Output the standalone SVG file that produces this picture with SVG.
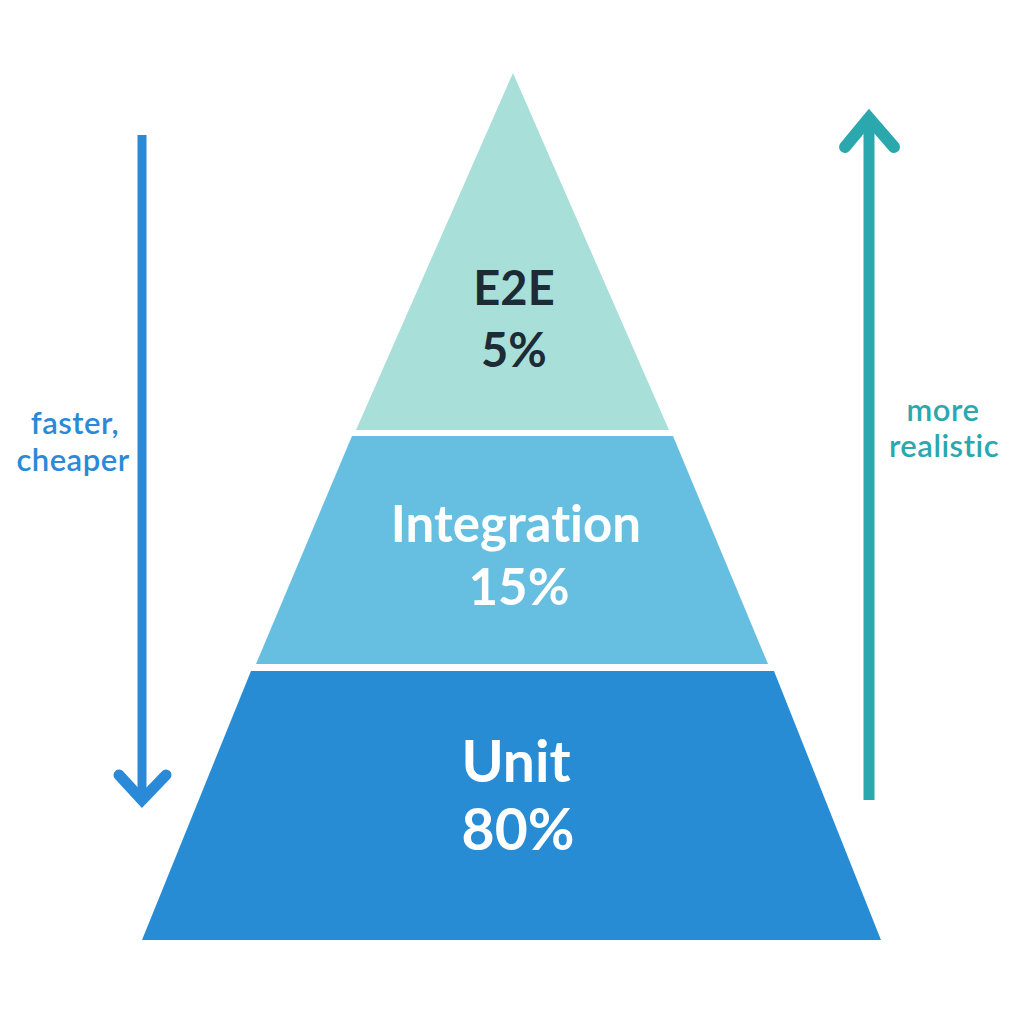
<svg xmlns="http://www.w3.org/2000/svg" width="1024" height="1024" viewBox="0 0 1024 1024">
<style>
.lbl{font-family:Lato,"Open Sans","Liberation Sans",sans-serif;font-weight:bold;text-anchor:middle;font-variant-ligatures:none}
.side{font-family:Lato,"Open Sans","Liberation Sans",sans-serif;font-weight:600;font-size:31px;text-anchor:middle;letter-spacing:0.5px;font-variant-ligatures:none}
</style>
<rect width="1024" height="1024" fill="#ffffff"/>
<g id="e2e">
<polygon points="513,73 669,430 356,430" fill="#A8DFD9"/>
<text class="lbl" x="514" y="305" font-size="47" fill="#1C2B36">E2E</text>
<text class="lbl" x="514" y="367" font-size="47" fill="#1C2B36">5%</text>
</g>
<g id="integration">
<polygon points="352,436 673,436 768,664 256,664" fill="#66BFE1"/>
<text class="lbl" x="516" y="542" font-size="51" fill="#ffffff">Integration</text>
<text class="lbl" x="519" y="605" font-size="51" fill="#ffffff">15%</text>
</g>
<g id="unit">
<polygon points="251,671 774,671 881,940 142,940" fill="#288CD5"/>
<text class="lbl" x="516" y="782" font-size="57" fill="#ffffff">Unit</text>
<text class="lbl" x="518" y="850" font-size="57" fill="#ffffff">80%</text>
</g>
<g id="connectors">
<g id="faster-arrow" stroke="#2A8AD8" fill="none">
<line x1="142" y1="135" x2="142" y2="800" stroke-width="9"/>
<polyline points="119,775 142,800 166,775" stroke-width="11" stroke-linecap="round" stroke-linejoin="miter"/>
</g>
<g id="realistic-arrow" stroke="#2AA8AE" fill="none">
<line x1="869" y1="800" x2="869" y2="118" stroke-width="11"/>
<polyline points="845,147 869,118 894,147" stroke-width="12" stroke-linecap="round" stroke-linejoin="miter"/>
</g>
</g>
<g id="labels">
<text class="side" x="75" y="434" fill="#2A8AD8">faster,</text>
<text class="side" x="73" y="471" fill="#2A8AD8">cheaper</text>
<text class="side" x="943" y="421" fill="#2AA8AE">more</text>
<text class="side" x="944" y="457" fill="#2AA8AE">realistic</text>
</g>
</svg>
